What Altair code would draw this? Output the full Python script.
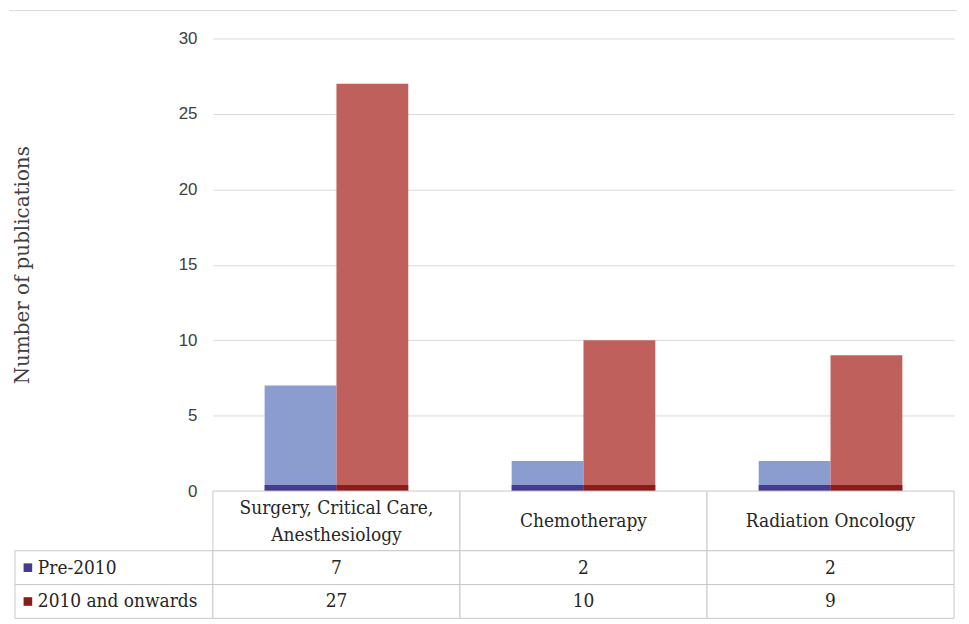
import altair as alt
import pandas as pd

categories = ["Surgery, Critical Care, Anesthesiology", "Chemotherapy", "Radiation Oncology"]
header_labels = ["Surgery, Critical Care,\nAnesthesiology", "Chemotherapy", "Radiation Oncology"]
series = ["Pre-2010", "2010 and onwards"]
pre_2010 = [7, 2, 2]
post_2010 = [27, 10, 9]
y_ticks = [0, 5, 10, 15, 20, 25, 30]

rows = []
for c, h, a, b in zip(categories, header_labels, pre_2010, post_2010):
    rows.append({"category": c, "header": h, "series": series[0], "value": a})
    rows.append({"category": c, "header": h, "series": series[1], "value": b})
df = pd.DataFrame(rows)
hdr = pd.DataFrame({"category": categories, "header": header_labels})
leg = pd.DataFrame({"series": series})

W, H = 745, 455
COND = "DejaVu Serif Condensed"
GRID = "#D9D9D9"
BORDER = "#C8C8C8"
TXT = "#262626"

xscale = alt.Scale(domain=categories, paddingInner=0, paddingOuter=0)
xoff = alt.Scale(domain=series, paddingInner=0, paddingOuter=0.72)

light_expr = "datum.series == 'Pre-2010' ? '#8B9DCF' : '#C0605D'"
dark_expr = "datum.series == 'Pre-2010' ? '#463A91' : '#8C1B1C'"

base = alt.Chart(df).transform_calculate(light=light_expr, dark=dark_expr)

bars = base.mark_bar().encode(
    x=alt.X("category:N", scale=xscale, axis=None),
    xOffset=alt.XOffset("series:N", scale=xoff, sort=series),
    y=alt.Y("value:Q", scale=alt.Scale(domain=[0, 30]),
            axis=alt.Axis(values=y_ticks, title="Number of publications",
                          titleFont="DejaVu Serif", titleFontSize=20, titleFontWeight="normal",
                          titleColor="#404040", titlePadding=146,
                          labelFont="Liberation Sans", labelFontSize=17, labelColor="#404040",
                          labelPadding=16, ticks=False, domain=False,
                          grid=True, gridColor=GRID)),
    color=alt.Color("light:N", scale=None),
)
stripes = base.mark_bar().encode(
    x=alt.X("category:N", scale=xscale, axis=None),
    xOffset=alt.XOffset("series:N", scale=xoff, sort=series),
    y=alt.value(H - 6),
    y2=alt.value(H),
    color=alt.Color("dark:N", scale=None),
)
frame = alt.Chart(leg).mark_rule(color="#E0E0E0", strokeWidth=1).encode(
    y=alt.value(-28), x=alt.value(-205), x2=alt.value(W + 3)
)
top = alt.layer(frame, bars, stripes).properties(width=W, height=H)

header_cells = alt.Chart(hdr).mark_rect(fill="white", stroke=BORDER, strokeWidth=1).encode(
    x=alt.X("category:N", scale=xscale, axis=None),
)
header_text = alt.Chart(hdr).transform_calculate(
    ypix="indexof(datum.header, '\\n') >= 0 ? 17 : 30"
).mark_text(font=COND, fontSize=19, color=TXT, lineBreak="\n", lineHeight=27).encode(
    x=alt.X("category:N", scale=xscale, axis=None),
    y=alt.Y("ypix:Q", scale=None),
    text="header:N",
)
header = alt.layer(header_cells, header_text).properties(width=W, height=60)

yrow = alt.Scale(domain=series, paddingInner=0, paddingOuter=0)
tbase = alt.Chart(df)
cells = tbase.mark_rect(fill="white", stroke=BORDER, strokeWidth=1).encode(
    x=alt.X("category:N", scale=xscale, axis=None),
    y=alt.Y("series:N", scale=yrow, sort=series, axis=None),
)
vals = tbase.mark_text(font=COND, fontSize=19, color=TXT).encode(
    x=alt.X("category:N", scale=xscale, axis=None),
    y=alt.Y("series:N", scale=yrow, sort=series, axis=None),
    text="value:Q",
)
lbase = alt.Chart(leg).transform_calculate(dark=dark_expr)
label_cells = lbase.mark_rect(fill="white", stroke=BORDER, strokeWidth=1).encode(
    x=alt.value(-199), x2=alt.value(0),
    y=alt.Y("series:N", scale=yrow, sort=series, axis=None),
)
squares = lbase.mark_square(size=75, opacity=1).encode(
    x=alt.value(-186),
    y=alt.Y("series:N", scale=yrow, sort=series, axis=None),
    color=alt.Color("dark:N", scale=None),
)
labels = lbase.mark_text(font=COND, fontSize=19, color=TXT, align="left").encode(
    x=alt.value(-176),
    y=alt.Y("series:N", scale=yrow, sort=series, axis=None),
    text="series:N",
)
table = alt.layer(label_cells, cells, vals, squares, labels).properties(width=W, height=68)

chart = alt.vconcat(top, header, table, spacing=0, bounds="flush").properties(
    padding={"left": 0, "top": 0, "right": 3, "bottom": 0}
).configure_view(stroke=None)

chart.save("out.html", embed_options={"renderer": "svg", "actions": False})
